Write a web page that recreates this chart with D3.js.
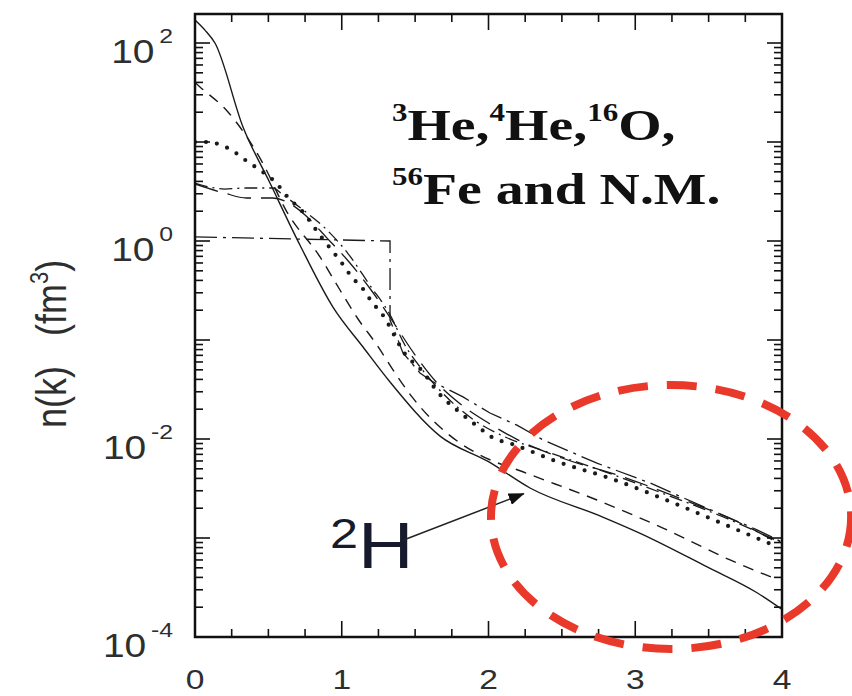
<!DOCTYPE html>
<html>
<head>
<meta charset="utf-8">
<script src="https://cdn.jsdelivr.net/npm/d3@7"></script>
<style>
  html, body { margin: 0; background: #fff; }
  svg { display: block; }
</style>
</head>
<body>
<svg id="chart"></svg>
<script>
// n(k) momentum distributions, k in fm^-1, n in fm^3
const K_H2 = [0, 0.068, 0.136, 0.327, 0.511, 0.715, 0.94, 1.145, 1.329, 1.67, 2.0, 2.283, 2.76, 3.03, 3.49, 3.83, 4.0];
const N_H2 = [171, 135, 100, 14.2, 3.85, 0.91, 0.215, 0.085, 0.0377, 0.0107, 0.0059, 0.0032, 0.00167, 0.00112, 0.00051, 0.00028, 0.00019];

const K_HE3 = [0, 0.034, 0.225, 0.457, 0.627, 0.852, 0.988, 1.111, 1.24, 1.349, 1.479, 1.806, 1.942, 2.262, 2.739, 3.189, 3.646, 3.95];
const N_HE3 = [40, 36, 20.1, 6.3, 1.96, 0.69, 0.32, 0.163, 0.089, 0.050, 0.0266, 0.0091, 0.0069, 0.0045, 0.00242, 0.00126, 0.0006, 0.00039];

const K_HE4 = [0, 0.08, 0.18, 0.27, 0.36, 0.46, 0.55, 0.63, 0.73, 0.86, 1.0, 1.07, 1.14, 1.21, 1.27, 1.445, 1.53, 1.67, 1.81, 1.94, 2.02, 2.17, 2.47, 2.83, 3.26, 3.65, 3.94];
const N_HE4 = [10, 10, 9.3, 7.9, 6.3, 5.0, 3.9, 2.8, 2.0, 1.1, 0.6, 0.43, 0.335, 0.237, 0.187, 0.068, 0.052, 0.028, 0.0183, 0.0129, 0.0105, 0.0088, 0.0059, 0.0040, 0.00226, 0.00129, 0.00085];

const K_O16 = [0, 0.1, 0.2, 0.35, 0.53, 0.6, 0.72, 0.9, 1.04, 1.19, 1.33, 1.43, 1.55, 1.7, 1.9, 2.1, 2.4, 2.8, 3.2, 3.6, 4.0];
const N_O16 = [3.85, 3.51, 3.35, 3.43, 3.43, 2.92, 2.15, 1.29, 0.756, 0.36, 0.179, 0.089, 0.0498, 0.0278, 0.0156, 0.0107, 0.0074, 0.00464, 0.00278, 0.00163, 0.00089];

const K_FE56 = [0, 0.2, 0.35, 0.53, 0.64, 0.75, 0.9, 1.05, 1.2, 1.35, 1.5, 1.65, 1.8, 2.0, 2.2, 2.5, 2.9, 3.3, 3.7, 4.0];
const N_FE56 = [3.77, 3.05, 2.72, 2.72, 2.42, 1.83, 1.07, 0.614, 0.32, 0.152, 0.0705, 0.0368, 0.0231, 0.0145, 0.0098, 0.00643, 0.00423, 0.00253, 0.00145, 0.00085];

const K_NM = [0, 1.329, 1.329, 1.376, 1.417, 1.533, 1.622, 1.826, 2.01, 2.194, 2.371, 2.739, 3.1, 3.44, 3.83, 4.0];
const N_NM = [1.10, 1.0, 0.159, 0.107, 0.074, 0.0465, 0.0377, 0.0266, 0.0183, 0.0138, 0.0098, 0.0057, 0.0036, 0.00215, 0.00121, 0.00091];

const X_TICKS = [0, 1, 2, 3, 4];
const X_TICK_LABELS = ["0", "1", "2", "3", "4"];
const Y_LABEL_EXP = [2, 0, -2, -4];

// annotation anchors, in data units
const LEGEND_AT = [1.342, 10.5];
const H2_LABEL_AT = [0.92, 5.0e-4];
const ARROW_FROM = [1.417, 9.5e-4];
const ARROW_TO = [2.24, 2.8e-3];
const RING_AT = [3.244, 1.63e-3];
const RING_DK = 1.227, RING_DECADES = 1.333;

const W = 852, H = 696;
const X0 = 195, X1 = 782, YB = 637, YT = 14;

const x = d3.scaleLinear().domain([0, 4]).range([X0, X1]);
const y = d3.scaleLog().domain([1e-4, Math.pow(10, 2.293)]).range([YB, YT]);

const svg = d3.select("#chart").attr("width", W).attr("height", H);

const defs = svg.append("defs");
defs.append("clipPath").attr("id", "plotclip")
  .append("rect").attr("x", X0).attr("y", YT).attr("width", X1 - X0).attr("height", YB - YT);

defs.append("marker")
  .attr("id", "arrowhead")
  .attr("markerUnits", "userSpaceOnUse")
  .attr("markerWidth", 16).attr("markerHeight", 12)
  .attr("refX", 15).attr("refY", 6)
  .attr("orient", "auto")
  .append("path").attr("d", "M0,0 L16,6 L0,12 Z").attr("fill", "#111");

// curves
const curves = [
  { k: K_H2, n: N_H2, dash: null, w: 1.4, cap: "butt", c: d3.curveMonotoneX },
  { k: K_HE3, n: N_HE3, dash: "11,8", w: 1.4, cap: "butt", c: d3.curveMonotoneX },
  { k: K_HE4, n: N_HE4, dash: "0,11", w: 4.2, cap: "round", c: d3.curveMonotoneX },
  { k: K_O16, n: N_O16, dash: "13,5,2,5", w: 1.3, cap: "butt", c: d3.curveMonotoneX },
  { k: K_FE56, n: N_FE56, dash: "24,10", w: 1.3, cap: "butt", c: d3.curveMonotoneX },
  { k: K_NM, n: N_NM, dash: "22,6,3,6", w: 1.3, cap: "butt", c: d3.curveLinear },
];

const gCurves = svg.append("g").attr("clip-path", "url(#plotclip)");
curves.forEach(cv => {
  const pts = cv.k.map((k, i) => [k, cv.n[i]]);
  const gen = d3.line().x(d => x(d[0])).y(d => y(d[1])).curve(cv.c);
  gCurves.append("path")
    .attr("d", gen(pts))
    .attr("fill", "none")
    .attr("stroke", "#1a1a1a")
    .attr("stroke-width", cv.w)
    .attr("stroke-linecap", cv.cap)
    .attr("stroke-dasharray", cv.dash);
});

// frame + inward ticks
const gAxes = svg.append("g").attr("stroke", "#111");
gAxes.append("rect")
  .attr("x", X0).attr("y", YT).attr("width", X1 - X0).attr("height", YB - YT)
  .attr("fill", "none").attr("stroke-width", 2.5);

const xt = d3.range(0, 4.001, 0.25);
xt.forEach(v => {
  const len = Number.isInteger(v) ? 16 : 8;
  gAxes.append("line").attr("x1", x(v)).attr("x2", x(v)).attr("y1", YB).attr("y2", YB - len).attr("stroke-width", 1.6);
  gAxes.append("line").attr("x1", x(v)).attr("x2", x(v)).attr("y1", YT).attr("y2", YT + len).attr("stroke-width", 1.6);
});

const yt = [];
for (let d = -4; d <= 2; d++) {
  for (let m = 1; m <= 9; m++) {
    const v = m * Math.pow(10, d);
    if (v <= y.domain()[1]) yt.push({ v: v, major: m === 1 });
  }
}
yt.forEach(t => {
  const len = t.major ? 15 : 8;
  gAxes.append("line").attr("x1", X0).attr("x2", X0 + len).attr("y1", y(t.v)).attr("y2", y(t.v)).attr("stroke-width", 1.6);
  gAxes.append("line").attr("x1", X1).attr("x2", X1 - len).attr("y1", y(t.v)).attr("y2", y(t.v)).attr("stroke-width", 1.6);
});

// tick labels
const sans = "'Liberation Sans', Arial, Helvetica, sans-serif";
X_TICKS.forEach((v, i) => {
  svg.append("text")
    .attr("transform", "translate(" + x(v) + "," + (YB + 52) + ") scale(1.2,1)")
    .attr("text-anchor", "middle")
    .attr("font-family", sans).attr("font-size", 28).attr("fill", "#2e2e2e")
    .text(X_TICK_LABELS[i]);
});

Y_LABEL_EXP.forEach(e => {
  const t = svg.append("text")
    .attr("transform", "translate(" + 173 + "," + (y(Math.pow(10, e)) + 20) + ") scale(1.18,1)")
    .attr("text-anchor", "end")
    .attr("font-family", sans).attr("fill", "#2e2e2e");
  t.append("tspan").attr("font-size", 33).text("10");
  t.append("tspan").attr("font-size", 21).attr("dx", 4).attr("dy", -20).text(String(e));
});

// y axis title
const ytl = svg.append("text")
  .attr("transform", "translate(66,428) scale(1.2,1) rotate(-90)")
  .attr("font-family", sans).attr("fill", "#2e2e2e").attr("font-size", 36);
ytl.append("tspan").text("n(k)");
ytl.append("tspan").attr("dx", 30).text("(fm");
ytl.append("tspan").attr("font-size", 22).attr("dy", -15).text("3");
ytl.append("tspan").attr("dy", 15).text(")");

// legend text
const serif = "'Liberation Serif', 'Times New Roman', serif";
const lx = x(LEGEND_AT[0]), ly = y(LEGEND_AT[1]);
function supLine(parts, yy) {
  const t = svg.append("text")
    .attr("transform", "translate(" + lx + "," + yy + ") scale(1.24,1)")
    .attr("font-family", serif).attr("font-weight", "bold").attr("fill", "#111");
  parts.forEach(p => {
    if (p[0] === "sup") {
      t.append("tspan").attr("font-size", 25).attr("dy", -19).text(p[1]);
    } else {
      t.append("tspan").attr("font-size", 45).attr("dy", 19).text(p[1]);
    }
  });
}
supLine([["sup", "3"], ["txt", "He,"], ["sup", "4"], ["txt", "He,"], ["sup", "16"], ["txt", "O,"]], ly);
supLine([["sup", "56"], ["txt", "Fe and N.M."]], ly + 64);

// 2H label + arrow
const hl = svg.append("text")
  .attr("transform", "translate(" + x(H2_LABEL_AT[0]) + "," + y(H2_LABEL_AT[1]) + ") scale(1.2,1)")
  .attr("font-family", sans).attr("fill", "#161a2c");
hl.append("tspan").attr("font-size", 42).attr("dy", -20).text("2");
hl.append("tspan").attr("font-size", 64).attr("dy", 20).text("H");

svg.append("line")
  .attr("x1", x(ARROW_FROM[0])).attr("y1", y(ARROW_FROM[1]))
  .attr("x2", x(ARROW_TO[0])).attr("y2", y(ARROW_TO[1]))
  .attr("stroke", "#222").attr("stroke-width", 1.5)
  .attr("marker-end", "url(#arrowhead)");

// red dashed ring
const cx = x(RING_AT[0]), cy = y(RING_AT[1]);
svg.append("ellipse")
  .attr("cx", cx).attr("cy", cy)
  .attr("rx", x(RING_AT[0] + RING_DK) - cx)
  .attr("ry", cy - y(RING_AT[1] * Math.pow(10, RING_DECADES)))
  .attr("fill", "none")
  .attr("stroke", "#e8392b").attr("stroke-width", 8)
  .attr("stroke-dasharray", "30,19");
</script>
</body>
</html>
